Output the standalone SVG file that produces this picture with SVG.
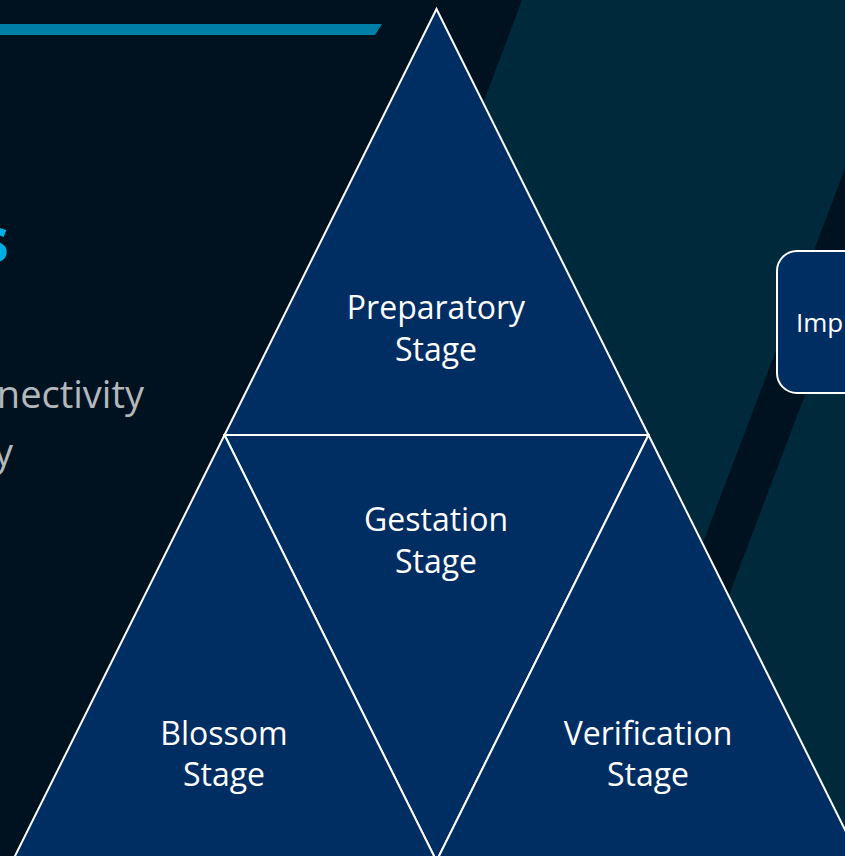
<svg xmlns="http://www.w3.org/2000/svg" width="845" height="856" viewBox="0 0 845 856">
<style>
.tri{fill:#002d62;stroke:#ffffff;stroke-width:2;stroke-linejoin:miter}
.lbl{font-family:"Open Sans","Noto Sans","Liberation Sans",sans-serif;font-size:32px;fill:#ffffff;text-anchor:middle}
.sub{font-family:"Open Sans","Noto Sans","Liberation Sans",sans-serif;font-size:38px;fill:#b4b8bc;text-anchor:end}
</style>
<rect x="0" y="0" width="845" height="856" fill="#00121f"/>
<polygon points="522,0 1200,0 1200,856 200,856" fill="#002a3b"/>
<polygon points="909,0 955,0 630,856 584,856" fill="#00121f"/>
<polygon points="0,24 382,24 375,35 0,35" fill="#0080a8"/>
<text x="9" y="262" font-family="'Open Sans','Noto Sans',sans-serif" font-size="62" font-weight="bold" fill="#00aee0" text-anchor="end">s</text>
<text class="sub" x="144" y="408">nectivity</text>
<text class="sub" x="13" y="466">y</text>
<g id="preparatory">
<polygon class="tri" points="436.5,9 648.5,435 224.5,435"/>
<text class="lbl" x="436" y="319">Preparatory</text>
<text class="lbl" x="436" y="361">Stage</text>
</g>
<g id="gestation">
<polygon class="tri" points="224.5,435 648.5,435 436.5,861"/>
<text class="lbl" x="436" y="531">Gestation</text>
<text class="lbl" x="436" y="573">Stage</text>
</g>
<g id="blossom">
<polygon class="tri" points="224.5,435 436.5,861 12.5,861"/>
<text class="lbl" x="224" y="745">Blossom</text>
<text class="lbl" x="224" y="786">Stage</text>
</g>
<g id="verification">
<polygon class="tri" points="648.5,435 860.5,861 436.5,861"/>
<text class="lbl" x="648" y="745">Verification</text>
<text class="lbl" x="648" y="786">Stage</text>
</g>
<g id="imp">
<rect x="777" y="251" width="120" height="142" rx="20" ry="20" fill="#002d62" stroke="#ffffff" stroke-width="2"/>
<text x="796" y="332" font-family="'Open Sans','Noto Sans',sans-serif" font-size="26" fill="#ffffff">Imp</text>
</g>
<g id="connectors"></g>
</svg>
